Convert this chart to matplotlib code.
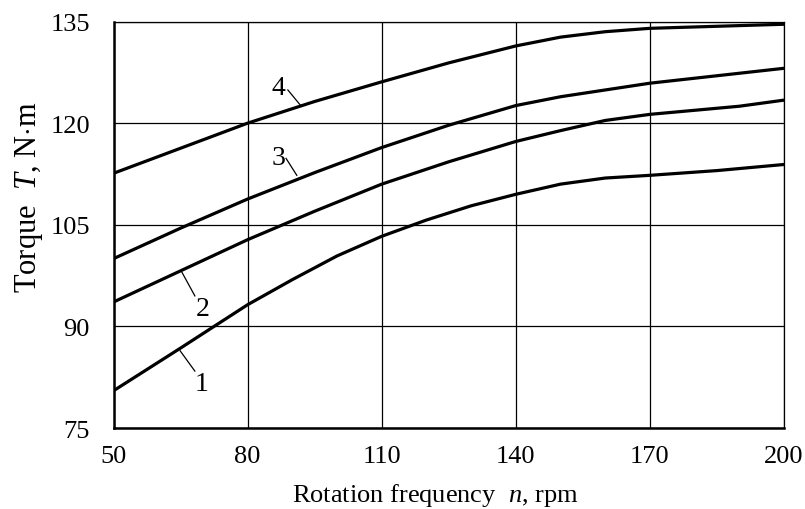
import matplotlib
matplotlib.use("Agg")
import matplotlib.pyplot as plt

plt.rcParams['font.family'] = ['Liberation Serif', 'DejaVu Serif']
plt.rcParams['mathtext.fontset'] = 'custom'
plt.rcParams['mathtext.rm'] = 'Liberation Serif'
plt.rcParams['mathtext.it'] = 'Liberation Serif:italic'

# torque curves (n in rpm, T in N*m)
n1 = [50, 65, 80, 90, 100, 110, 120, 130, 140, 150, 160, 170, 185, 200]
t1 = [80.5, 86.8, 93.2, 96.9, 100.4, 103.3, 105.7, 107.8, 109.5, 111.0, 111.9, 112.3, 113.0, 113.9]

n2 = [50, 65, 80, 95, 110, 125, 140, 150, 160, 170, 190, 200]
t2 = [93.6, 98.2, 102.8, 107.0, 111.0, 114.3, 117.3, 118.9, 120.4, 121.3, 122.5, 123.4]

n3 = [50, 65, 80, 95, 110, 125, 140, 150, 160, 170, 185, 200]
t3 = [100.0, 104.5, 108.8, 112.7, 116.4, 119.7, 122.6, 123.9, 124.9, 125.9, 127.0, 128.1]

n4 = [50, 65, 80, 95, 110, 125, 140, 150, 160, 170, 185, 200]
t4 = [112.6, 116.3, 120.0, 123.2, 126.1, 128.9, 131.4, 132.7, 133.5, 134.0, 134.3, 134.6]

xticks = [50, 80, 110, 140, 170, 200]
yticks = [75, 90, 105, 120, 135]

# curve labels: text position, leader start, leader end
labels = ['1', '2', '3', '4']
label_xy = [(69.8, 81.6), (70.0, 92.7), (86.8, 115.0), (86.8, 125.3)]
leader_from = [(64.9, 86.4), (65.3, 98.0), (88.6, 114.8), (89.0, 124.9)]
leader_to = [(68.2, 83.4), (68.2, 94.5), (91.0, 112.3), (92.0, 122.5)]

fig = plt.figure(figsize=(8.05, 5.10), dpi=100)
ax = fig.add_axes([0.141, 0.1588, 0.833, 0.797])

for n, t in [(n1, t1), (n2, t2), (n3, t3), (n4, t4)]:
    ax.plot(n, t, color='black', lw=2.3, solid_capstyle='butt', zorder=3)

for lab, (tx, ty), (x0, y0), (x1, y1) in zip(labels, label_xy, leader_from, leader_to):
    ax.plot([x0, x1], [y0, y1], color='black', lw=0.9, zorder=3)
    ax.text(tx, ty, lab, fontsize=20, ha='center', va='center')

ax.set_xlim(50, 200)
ax.set_ylim(75, 135)
ax.set_xticks(xticks)
ax.set_yticks(yticks)
ax.grid(True, color='black', lw=0.9)
ax.tick_params(length=0, labelsize=19)
ax.tick_params(axis='x', pad=12)
ax.tick_params(axis='y', pad=17)

ax.spines['left'].set_linewidth(1.8)
ax.spines['bottom'].set_linewidth(1.8)
ax.spines['top'].set_linewidth(0.9)
ax.spines['right'].set_linewidth(0.9)

ax.set_xlabel('Rotation frequency  $n$, rpm', fontsize=19, va='center')
ax.xaxis.set_label_coords(0.48, -0.163)
ax.set_ylabel('Torque  $T$, N$\\cdot$m', fontsize=22, va='center')
ax.yaxis.set_label_coords(-0.126, 0.57)

fig.savefig('out.png', dpi=100)
